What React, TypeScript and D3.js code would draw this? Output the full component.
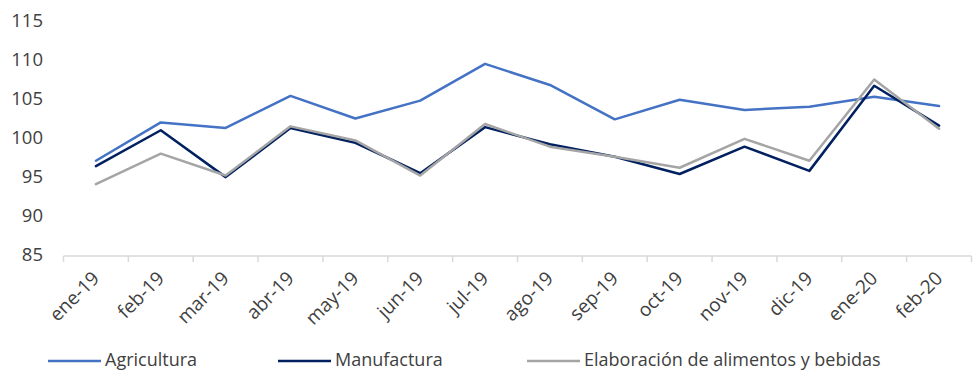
import React from "react";
import * as d3 from "d3";

const categories = [
  "ene-19", "feb-19", "mar-19", "abr-19", "may-19", "jun-19", "jul-19",
  "ago-19", "sep-19", "oct-19", "nov-19", "dic-19", "ene-20", "feb-20",
];
const agricultura = [97.2, 102.1, 101.4, 105.5, 102.6, 104.9, 109.6, 106.9, 102.5, 105.0, 103.7, 104.1, 105.4, 104.2];
const manufactura = [96.5, 101.1, 95.1, 101.4, 99.5, 95.6, 101.5, 99.3, 97.7, 95.5, 99.0, 95.9, 106.8, 101.7];
const alimentos = [94.2, 98.1, 95.3, 101.6, 99.8, 95.3, 101.9, 99.0, 97.7, 96.3, 100.0, 97.2, 107.6, 101.3];
const yTicks = [85, 90, 95, 100, 105, 110, 115];

const seriesList = [
  { name: "Agricultura", values: agricultura, color: "#4472C4" },
  { name: "Manufactura", values: manufactura, color: "#002060" },
  { name: "Elaboración de alimentos y bebidas", values: alimentos, color: "#A5A5A5" },
];

const W = 976;
const H = 371;
const FONT = "'Open Sans', sans-serif";
const TEXT = "#404040";

export default function App() {
  const x = d3.scaleBand<string>().domain(categories).range([63.5, 971.5]);
  const y = d3.scaleLinear().domain([85, 115]).range([256, 21.7]);
  const cx = (c: string) => (x(c) as number) + x.bandwidth() / 2;

  const line = d3
    .line<number>()
    .x((_, i) => cx(categories[i]))
    .y((v) => y(v));

  const tickXs = [...categories.map((c) => x(c) as number), 971.5];
  const legendX = [48, 278, 527];

  return (
    <svg
      width={W}
      height={H}
      style={{ position: "absolute", left: 0, top: 0, background: "#fff" }}
      fontFamily={FONT}
    >
      {yTicks.map((t) => (
        <text key={t} x={43} y={y(t)} textAnchor="end" dominantBaseline="middle" fontSize={18.5} fill={TEXT}>
          {t}
        </text>
      ))}
      <line x1={63.5} x2={971.5} y1={256} y2={256} stroke="#D9D9D9" strokeWidth={1.5} />
      {tickXs.map((tx, i) => (
        <line key={i} x1={tx} x2={tx} y1={256} y2={262} stroke="#D9D9D9" strokeWidth={1.5} />
      ))}
      {categories.map((c) => (
        <text
          key={c}
          transform={`translate(${cx(c) + 1},${276}) rotate(-45)`}
          textAnchor="end"
          dominantBaseline="middle"
          fontSize={19}
          fill={TEXT}
        >
          {c}
        </text>
      ))}
      {seriesList.map((s) => (
        <path
          key={s.name}
          d={line(s.values) || ""}
          fill="none"
          stroke={s.color}
          strokeWidth={2.5}
          strokeLinejoin="round"
          strokeLinecap="round"
        />
      ))}
      {seriesList.map((s, i) => (
        <g key={s.name}>
          <line x1={legendX[i]} x2={legendX[i] + 53} y1={361} y2={361} stroke={s.color} strokeWidth={2.5} />
          <text x={legendX[i] + 57} y={366} fontSize={18} fill={TEXT}>
            {s.name}
          </text>
        </g>
      ))}
    </svg>
  );
}
